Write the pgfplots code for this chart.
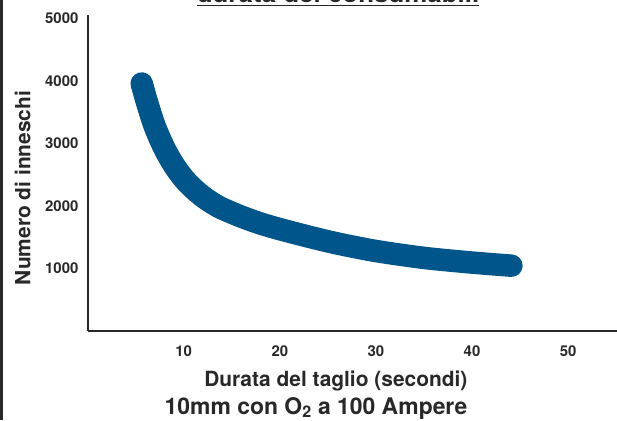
\documentclass[border=0pt]{standalone}
\usepackage{pgfplots}
\pgfplotsset{compat=1.18}
\usepackage{fontspec}
\setmainfont{TeX Gyre Heros}
\definecolor{curveblue}{RGB}{0,85,138}
\definecolor{axisgray}{RGB}{40,40,40}
\begin{document}
\begin{tikzpicture}[x=1bp,y=1bp]
\path[use as bounding box] (0,0) rectangle (617,420);
\clip (0,0) rectangle (617,420);
\draw[axisgray, line width=2.5bp] (1.3,0) -- (1.3,420);
\begin{axis}[
  at={(87.6bp,89bp)}, anchor=south west,
  scale only axis, width=530.5bp, height=315.6bp,
  xmin=0, xmax=55.2, ymin=0, ymax=5050,
  axis lines=left,
  axis line style={-, line width=2bp, axisgray},
  xtick={10,20,30,40,50}, ytick={1000,2000,3000,4000,5000},
  major tick length=0pt,
  /pgf/number format/assume math mode=true,
  /pgf/number format/1000 sep={},
  tick label style={font=\fontsize{15}{18}\selectfont\bfseries, text=axisgray},
  xticklabel style={anchor=base, yshift=-25bp},
  yticklabel style={anchor=east, inner sep=0pt, xshift=-9bp},
  xlabel={Durata del taglio (secondi)},
  xlabel style={font=\fontsize{21}{25}\selectfont\bfseries, text=axisgray,
    at={(axis description cs:0.468,-0.1774)}, anchor=base},
  ylabel={Numero di inneschi},
  ylabel style={font=\fontsize{21}{25}\selectfont\bfseries, text=axisgray,
    at={(axis description cs:-0.1225,0.453)}, anchor=center, rotate=0},
  clip=false,
]
\addplot[curveblue, line width=22.5bp, line cap=round, smooth] coordinates {
  (5.63,3960) (6.2,3650) (7.0,3270) (8.0,2920) (9.0,2650) (10.0,2440)
  (11.0,2280) (12.0,2150) (13.0,2045) (14.0,1960) (16.0,1830) (18.0,1720)
  (20.0,1630) (23.0,1510) (26.0,1400) (30.0,1280) (35.0,1170)
  (40.0,1095) (44.1,1045)
};
\end{axis}
\node[anchor=base, font=\fontsize{26}{30}\selectfont\bfseries, text=axisgray, inner sep=0pt] (title) at (338,417) {durata dei consumabili};
\draw[axisgray, line width=1.5bp] (title.west |- 0,414.5) -- (title.east |- 0,414.5);
\node[anchor=base, font=\fontsize{23}{27}\selectfont\bfseries, text=axisgray, inner sep=0pt] at (316,6) {10mm con O\textsubscript{2} a 100 Ampere};
\end{tikzpicture}
\end{document}
